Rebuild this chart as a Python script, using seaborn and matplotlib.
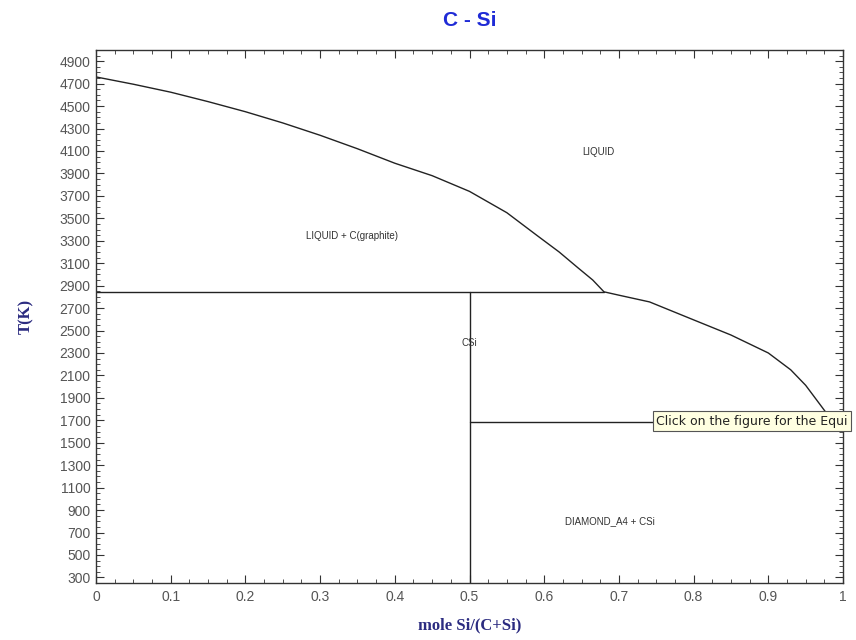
import numpy as np
import pandas as pd
import matplotlib
matplotlib.use("Agg")
import matplotlib.pyplot as plt
from matplotlib.ticker import MultipleLocator
import seaborn as sns

# Liquidus curve (mole fraction Si, temperature K)
liq_x = [0.0, 0.05, 0.1, 0.15, 0.2, 0.25, 0.3, 0.35, 0.4, 0.45, 0.5, 0.55, 0.59,
         0.62, 0.645, 0.665, 0.68, 0.7, 0.741, 0.8, 0.85, 0.9, 0.93, 0.95, 0.97, 0.985]
liq_T = [4760, 4695, 4624, 4540, 4450, 4350, 4240, 4120, 3991, 3880, 3740, 3550, 3349,
         3200, 3060, 2950, 2845, 2815, 2755, 2595, 2460, 2300, 2150, 2012, 1834, 1700]

# Invariant lines
perit_x = [0.0, 0.68]
perit_T = [2845, 2845]
csi_x = [0.5, 0.5]
csi_T = [2845, 250]
eut_x = [0.5, 1.0]
eut_T = [1687, 1687]

# Phase-region labels
region_labels = ["LIQUID", "LIQUID + C(graphite)", "CSi", "DIAMOND_A4 + CSi"]
region_x = [0.672, 0.343, 0.5, 0.688]
region_T = [4089, 3340, 2390, 800]

y_ticks = list(range(300, 5000, 200))
x_ticks = [0, 0.1, 0.2, 0.3, 0.4, 0.5, 0.6, 0.7, 0.8, 0.9, 1]
x_ticklabels = ["0", "0.1", "0.2", "0.3", "0.4", "0.5", "0.6", "0.7", "0.8", "0.9", "1"]

sns.set_style("ticks")
plt.rcParams['font.family'] = ['Liberation Sans', 'DejaVu Sans']

fig = plt.figure(figsize=(8.56, 6.4), dpi=100)
ax = fig.add_axes([96/856, 1 - 583/640, (843-96)/856, (583-50)/640])

line_kw = dict(color="#222222", linewidth=1.0, estimator=None, sort=False, ax=ax, legend=False)
sns.lineplot(data=pd.DataFrame({"x": liq_x, "T": liq_T}), x="x", y="T", **line_kw)
sns.lineplot(data=pd.DataFrame({"x": perit_x, "T": perit_T}), x="x", y="T", **line_kw)
sns.lineplot(data=pd.DataFrame({"x": csi_x, "T": csi_T}), x="x", y="T", **line_kw)
sns.lineplot(data=pd.DataFrame({"x": eut_x, "T": eut_T}), x="x", y="T", **line_kw)

ax.set_xlim(0, 1)
ax.set_ylim(250, 5000)
ax.set_xticks(x_ticks)
ax.set_xticklabels(x_ticklabels)
ax.set_yticks(y_ticks)
ax.xaxis.set_minor_locator(MultipleLocator(0.025))
ax.yaxis.set_minor_locator(MultipleLocator(50))
ax.tick_params(axis="both", which="major", direction="in", length=6, width=0.8,
               top=True, right=True, labelsize=10, labelcolor="#555555", color="#333333")
ax.tick_params(axis="both", which="minor", direction="in", length=3, width=0.6,
               top=True, right=True, color="#333333")
ax.tick_params(axis="x", which="major", pad=5)
ax.tick_params(axis="y", which="major", pad=4)
for s in ax.spines.values():
    s.set_color("#333333")
    s.set_linewidth(1.0)

ax.set_xlabel("mole Si/(C+Si)", family=['Liberation Serif', 'DejaVu Serif'],
              fontweight="bold", fontsize=12, color="#2b2b80", labelpad=10)
ax.set_ylabel("T(K)", family=['Liberation Serif', 'DejaVu Serif'],
              fontweight="bold", fontsize=12, color="#2b2b80", labelpad=18)
fig.text(0.549, 0.968, "C - Si", ha="center", va="center", fontsize=15,
         fontweight="bold", color="#1f2bd6", family=['Liberation Sans', 'DejaVu Sans'])

for lab, xx, tt in zip(region_labels, region_x, region_T):
    ax.text(xx, tt, lab, ha="center", va="center", fontsize=7, color="#333333")

fig.text(656/856, 1 - 421/640, "Click on the figure for the Equi",
         ha="left", va="center", fontsize=9, color="#222222",
         family=['DejaVu Sans'],
         bbox=dict(boxstyle="square,pad=0.25", facecolor="#ffffe1",
                   edgecolor="#555555", linewidth=0.8))

fig.savefig("out.png", dpi=100)
